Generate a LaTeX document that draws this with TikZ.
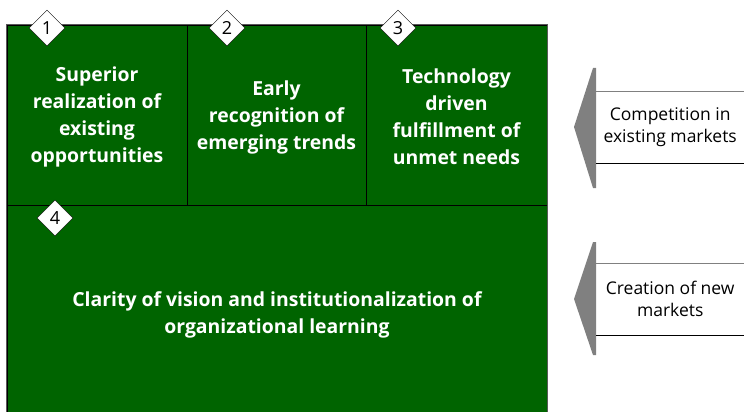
\documentclass[tikz,border=0pt]{standalone}
\usepackage{fontspec}
\setmainfont{Open Sans}
\usetikzlibrary{shapes.geometric}
\definecolor{cellgreen}{RGB}{0,100,0}
\definecolor{arrowgrey}{RGB}{128,128,128}
\begin{document}
\begin{tikzpicture}[x=1pt,y=-1pt,
  cell/.style={draw=black,fill=cellgreen,line width=0.6pt,inner sep=0pt},
  celltext/.style={text=white,align=center,inner sep=0pt,
    font=\fontsize{19.4}{27}\selectfont\bfseries},
  badge/.style={diamond,draw=black,fill=white,inner sep=0pt,minimum size=36pt,
    font=\fontsize{18}{18}\selectfont},
  marketlabel/.style={anchor=west,minimum width=148pt,inner sep=0pt,align=center,
    font=\fontsize{17.5}{22.5}\selectfont}]
  \useasboundingbox (0,0) rectangle (744,412);

  % Zellen oben
  \foreach \i/\x/\w/\txt in {1/97/180/{Superior\\realization of\\existing\\opportunities},
      2/276.5/179/{Early\\recognition of\\emerging trends},
      3/456.5/181/{Technology\\driven\\fulfillment of\\unmet needs}} {
    \node[cell,minimum width=\w,minimum height=180] (c\i) at (\x,115) {};
    \node[celltext] (t\i) at (\x,117) {\txt};
  }
  % Zelle unten
  \node[cell,minimum width=540,minimum height=207] (c4) at (277,308.5) {};
  \node[celltext] (t4) at (277,315)
    {Clarity of vision and institutionalization of\\organizational learning};
  \draw[gray!70!black,line width=0.8pt] (c1.north west) rectangle (c4.south east);

  % Nummern
  \foreach \i/\x in {1/47,2/227,3/398} {
    \node[badge] (b\i) at (\x,28) {\i};
  }
  \node[badge] (b4) at (55,218) {4};

  % Maerkte
  \foreach \name/\ymid/\hgt/\ytop/\ybot/\txt in {comp/127/71/68/188/{Competition in\\existing markets},
      new/299/72/242/355/{Creation of new\\markets}} {
    \fill[arrowgrey] (574,\ymid) -- (593,\ytop) -- (596,\ytop) -- (596,\ybot) -- (593,\ybot) -- cycle;
    \node[marketlabel,minimum height=\hgt] (\name) at (596,\ymid) {\txt};
    \draw[gray] (\name.north west) -- (\name.north east);
    \draw (\name.south west) -- (\name.south east);
  }
\end{tikzpicture}
\end{document}
